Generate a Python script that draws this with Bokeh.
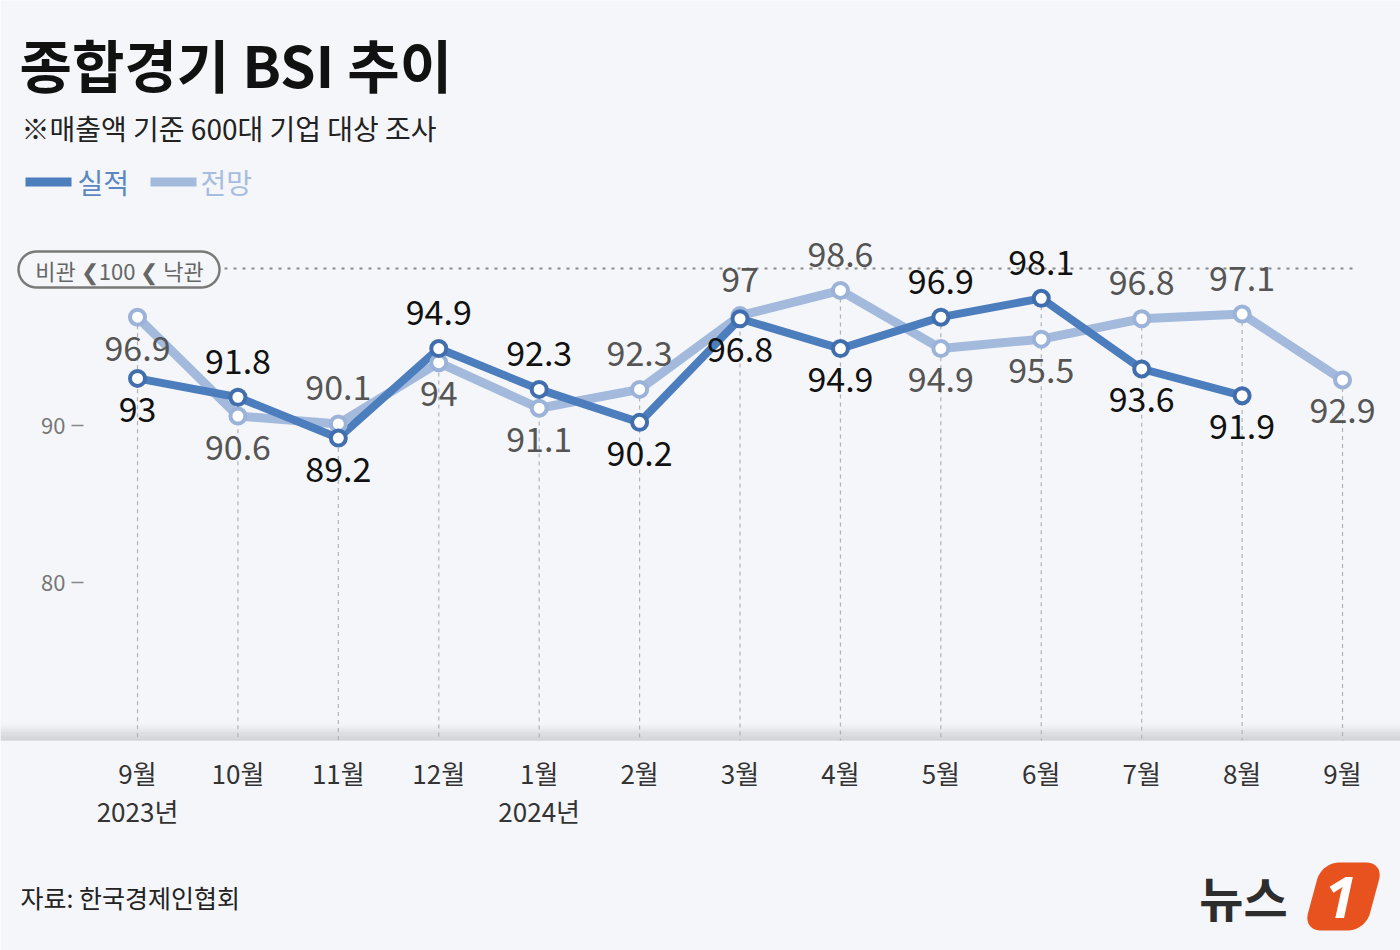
from bokeh.plotting import figure
from bokeh.models import LinearAxis, FixedTicker, Range1d, ColumnDataSource
from bokeh.core.properties import value
from bokeh.embed import file_html
from bokeh.resources import INLINE
import numpy as np

# ---------------- data ----------------
months = ["9월\n2023년", "10월", "11월", "12월", "1월\n2024년", "2월", "3월",
          "4월", "5월", "6월", "7월", "8월", "9월"]
actual = [93, 91.8, 89.2, 94.9, 92.3, 90.2, 96.8, 94.9, 96.9, 98.1, 93.6, 91.9]
outlook = [96.9, 90.6, 90.1, 94, 91.1, 92.3, 97, 98.6, 94.9, 95.5, 96.8, 97.1, 92.9]
y_ticks = [80, 90]
neutral = 100
series_names = ["실적", "전망"]

# ---------------- style ----------------
W, H = 1400, 950
BG = "#f5f6f9"
C_ACT = "#4c7dbd"
C_ACT_EDGE = "#416fae"
C_OUT = "#a3badd"
C_OUT_EDGE = "#9bb3d8"
FONT = "Noto Sans CJK KR"

X0, DX = 137, 100.42   # pixel of first month, pixels per month
Y90, DY = 425, 15.7    # pixel of value 90, pixels per unit


def vx(px):
    return (px - X0) / DX


def vy(py):
    return 90 + (Y90 - py) / DY


p = figure(width=W, height=H,
           x_range=Range1d(vx(0), vx(W)), y_range=Range1d(vy(H), vy(0)),
           x_axis_location=None, y_axis_location=None,
           toolbar_location=None, output_backend="svg", min_border=0,
           outline_line_color=None, background_fill_color=BG,
           border_fill_color=BG)
p.xgrid.visible = False
p.ygrid.visible = False

# bottom gradient band
steps = 18
top_px, bot_px = 721, 740
c0 = np.array([0xf5, 0xf6, 0xf9])
c1 = np.array([0xc6, 0xc7, 0xcc])
for k in range(steps):
    t = (k + 1) / steps
    col = c0 + (c1 - c0) * t ** 1.6
    y_a = top_px + (bot_px - top_px) * k / steps
    y_b = top_px + (bot_px - top_px) * (k + 1) / steps
    p.quad(left=vx(0), right=vx(W), top=vy(y_a), bottom=vy(y_b),
           fill_color="#%02x%02x%02x" % tuple(int(v) for v in col), line_color=None)

# dashed month guides
n = len(months)
tops = [max(actual[i], outlook[i]) if i < len(actual) else outlook[i] for i in range(n)]
p.segment(x0=list(range(n)), y0=tops, x1=list(range(n)), y1=[vy(740)] * n,
          line_color="#b3b3b6", line_width=1.2, line_dash="4 4")

# neutral line (100)
p.segment(x0=[vx(224)], y0=[neutral], x1=[vx(1352)], y1=[neutral],
          line_color="#8a8a8a", line_width=2, line_dash="3 6")


def rounded_rect(x0, y0, x1, y1, r, shear=0.0):
    pts = []
    cx, cy = (x0 + x1) / 2, (y0 + y1) / 2
    corners = [(x1 - r, y0 + r, -90, 0), (x1 - r, y1 - r, 0, 90),
               (x0 + r, y1 - r, 90, 180), (x0 + r, y0 + r, 180, 270)]
    for (ccx, ccy, a0, a1) in corners:
        for a in np.linspace(np.radians(a0), np.radians(a1), 12):
            px = ccx + r * np.cos(a)
            py = ccy + r * np.sin(a)
            px = px + shear * (cy - py)
            pts.append((px, py))
    xs = [vx(a) for a, b in pts]
    ys = [vy(b) for a, b in pts]
    return xs, ys


# pill label
xs, ys = rounded_rect(18, 251, 219, 287, 18)
p.patch(xs, ys, fill_color=BG, line_color="#7a7a7a", line_width=2.5)
p.text(x=[vx(119)], y=[neutral], text=["비관 ❮100 ❮ 낙관"],
       text_font=value(FONT), text_font_size="22px", text_color="#666666",
       text_align="center", text_baseline="middle", y_offset=1)

# lines
xa = list(range(len(actual)))
xo = list(range(len(outlook)))
p.line(xo, outlook, line_color=C_OUT, line_width=9, line_join="round")
p.line(xa, actual, line_color=C_ACT, line_width=8, line_join="round")
p.scatter(xo, outlook, size=15, fill_color="white", line_color=C_OUT_EDGE, line_width=4)
p.scatter(xa, actual, size=15, fill_color="white", line_color=C_ACT_EDGE, line_width=4)

# value labels
a_side = ["above" if a > o else "below" for a, o in zip(actual, outlook)]
o_side = ["below" if a > o else "above" for a, o in zip(actual, outlook)] + ["below"]
o_side[0] = "below"
off = {"above": -36, "below": 31}

src_a = ColumnDataSource(dict(x=xa, y=actual, t=[f"{v:g}" for v in actual],
                              off=[off[s] for s in a_side]))
src_o = ColumnDataSource(dict(x=xo, y=outlook, t=[f"{v:g}" for v in outlook],
                              off=[off[s] for s in o_side]))
p.text(x="x", y="y", text="t", y_offset="off", source=src_o,
       text_font=value(FONT), text_font_size="34px", text_color="#555555",
       text_align="center", text_baseline="middle")
p.text(x="x", y="y", text="t", y_offset="off", source=src_a,
       text_font=value(FONT), text_font_size="34px", text_color="#111111",
       text_align="center", text_baseline="middle")

# axes
xaxis = LinearAxis(fixed_location=vy(740))
xaxis.ticker = FixedTicker(ticks=list(range(n)))
xaxis.major_label_overrides = {i: m for i, m in enumerate(months)}
xaxis.axis_line_color = None
xaxis.major_tick_line_color = None
xaxis.minor_tick_line_color = None
xaxis.major_label_standoff = 7
xaxis.major_label_text_font = FONT
xaxis.major_label_text_font_size = "26px"
xaxis.major_label_text_color = "#333333"
xaxis.major_label_text_line_height = 1.05
p.add_layout(xaxis, "below")

yaxis = LinearAxis(fixed_location=vx(83))
yaxis.ticker = FixedTicker(ticks=y_ticks)
yaxis.axis_line_color = None
yaxis.major_tick_in = 0
yaxis.major_tick_out = 12
yaxis.major_tick_line_color = "#888888"
yaxis.major_tick_line_width = 1.5
yaxis.minor_tick_line_color = None
yaxis.major_label_standoff = 6
yaxis.major_label_text_font = FONT
yaxis.major_label_text_font_size = "22px"
yaxis.major_label_text_color = "#777777"
p.add_layout(yaxis, "left")

# title, subtitle
p.text(x=[vx(19)], y=[vy(62)], text=["종합경기 BSI 추이"], text_font=value(FONT),
       text_font_size="57px", text_font_style="bold", text_color="#111111",
       text_align="left", text_baseline="middle")
p.text(x=[vx(21)], y=[vy(127)], text=["※매출액 기준 600대 기업 대상 조사"], text_font=value(FONT),
       text_font_size="28px", text_color="#222222",
       text_align="left", text_baseline="middle")

# legend
p.quad(left=[vx(25)], right=[vx(71)], top=[vy(177)], bottom=[vy(186)], fill_color=C_ACT, line_color=None)
p.quad(left=[vx(150)], right=[vx(196)], top=[vy(177)], bottom=[vy(186)], fill_color=C_OUT, line_color=None)
p.text(x=[vx(77)], y=[vy(181)], text=[series_names[0]], text_font=value(FONT),
       text_font_size="28px", text_color="#5a87c0", text_align="left", text_baseline="middle")
p.text(x=[vx(200)], y=[vy(181)], text=[series_names[1]], text_font=value(FONT),
       text_font_size="28px", text_color="#a7bddf", text_align="left", text_baseline="middle")

# source
p.text(x=[vx(20)], y=[vy(896)], text=["자료: 한국경제인협회"], text_font=value(FONT),
       text_font_size="25px", text_color="#222222", text_align="left", text_baseline="middle")

# logo
p.text(x=[vx(1243)], y=[vy(895)], text=["뉴스"], text_font=value(FONT),
       text_font_size="48px", text_font_style="bold", text_color="#2d2d2d",
       text_align="center", text_baseline="middle")
xs, ys = rounded_rect(1312, 862, 1374, 930, 17, shear=0.27)
p.patch(xs, ys, fill_color="#e8521e", line_color=None)
p.text(x=[vx(1340)], y=[vy(897)], text=["1"], text_font=value("Noto Sans"),
       text_font_size="58px", text_font_style="bold italic", text_color="white",
       text_align="center", text_baseline="middle")

open("out.html", "w").write(file_html(p, INLINE))
